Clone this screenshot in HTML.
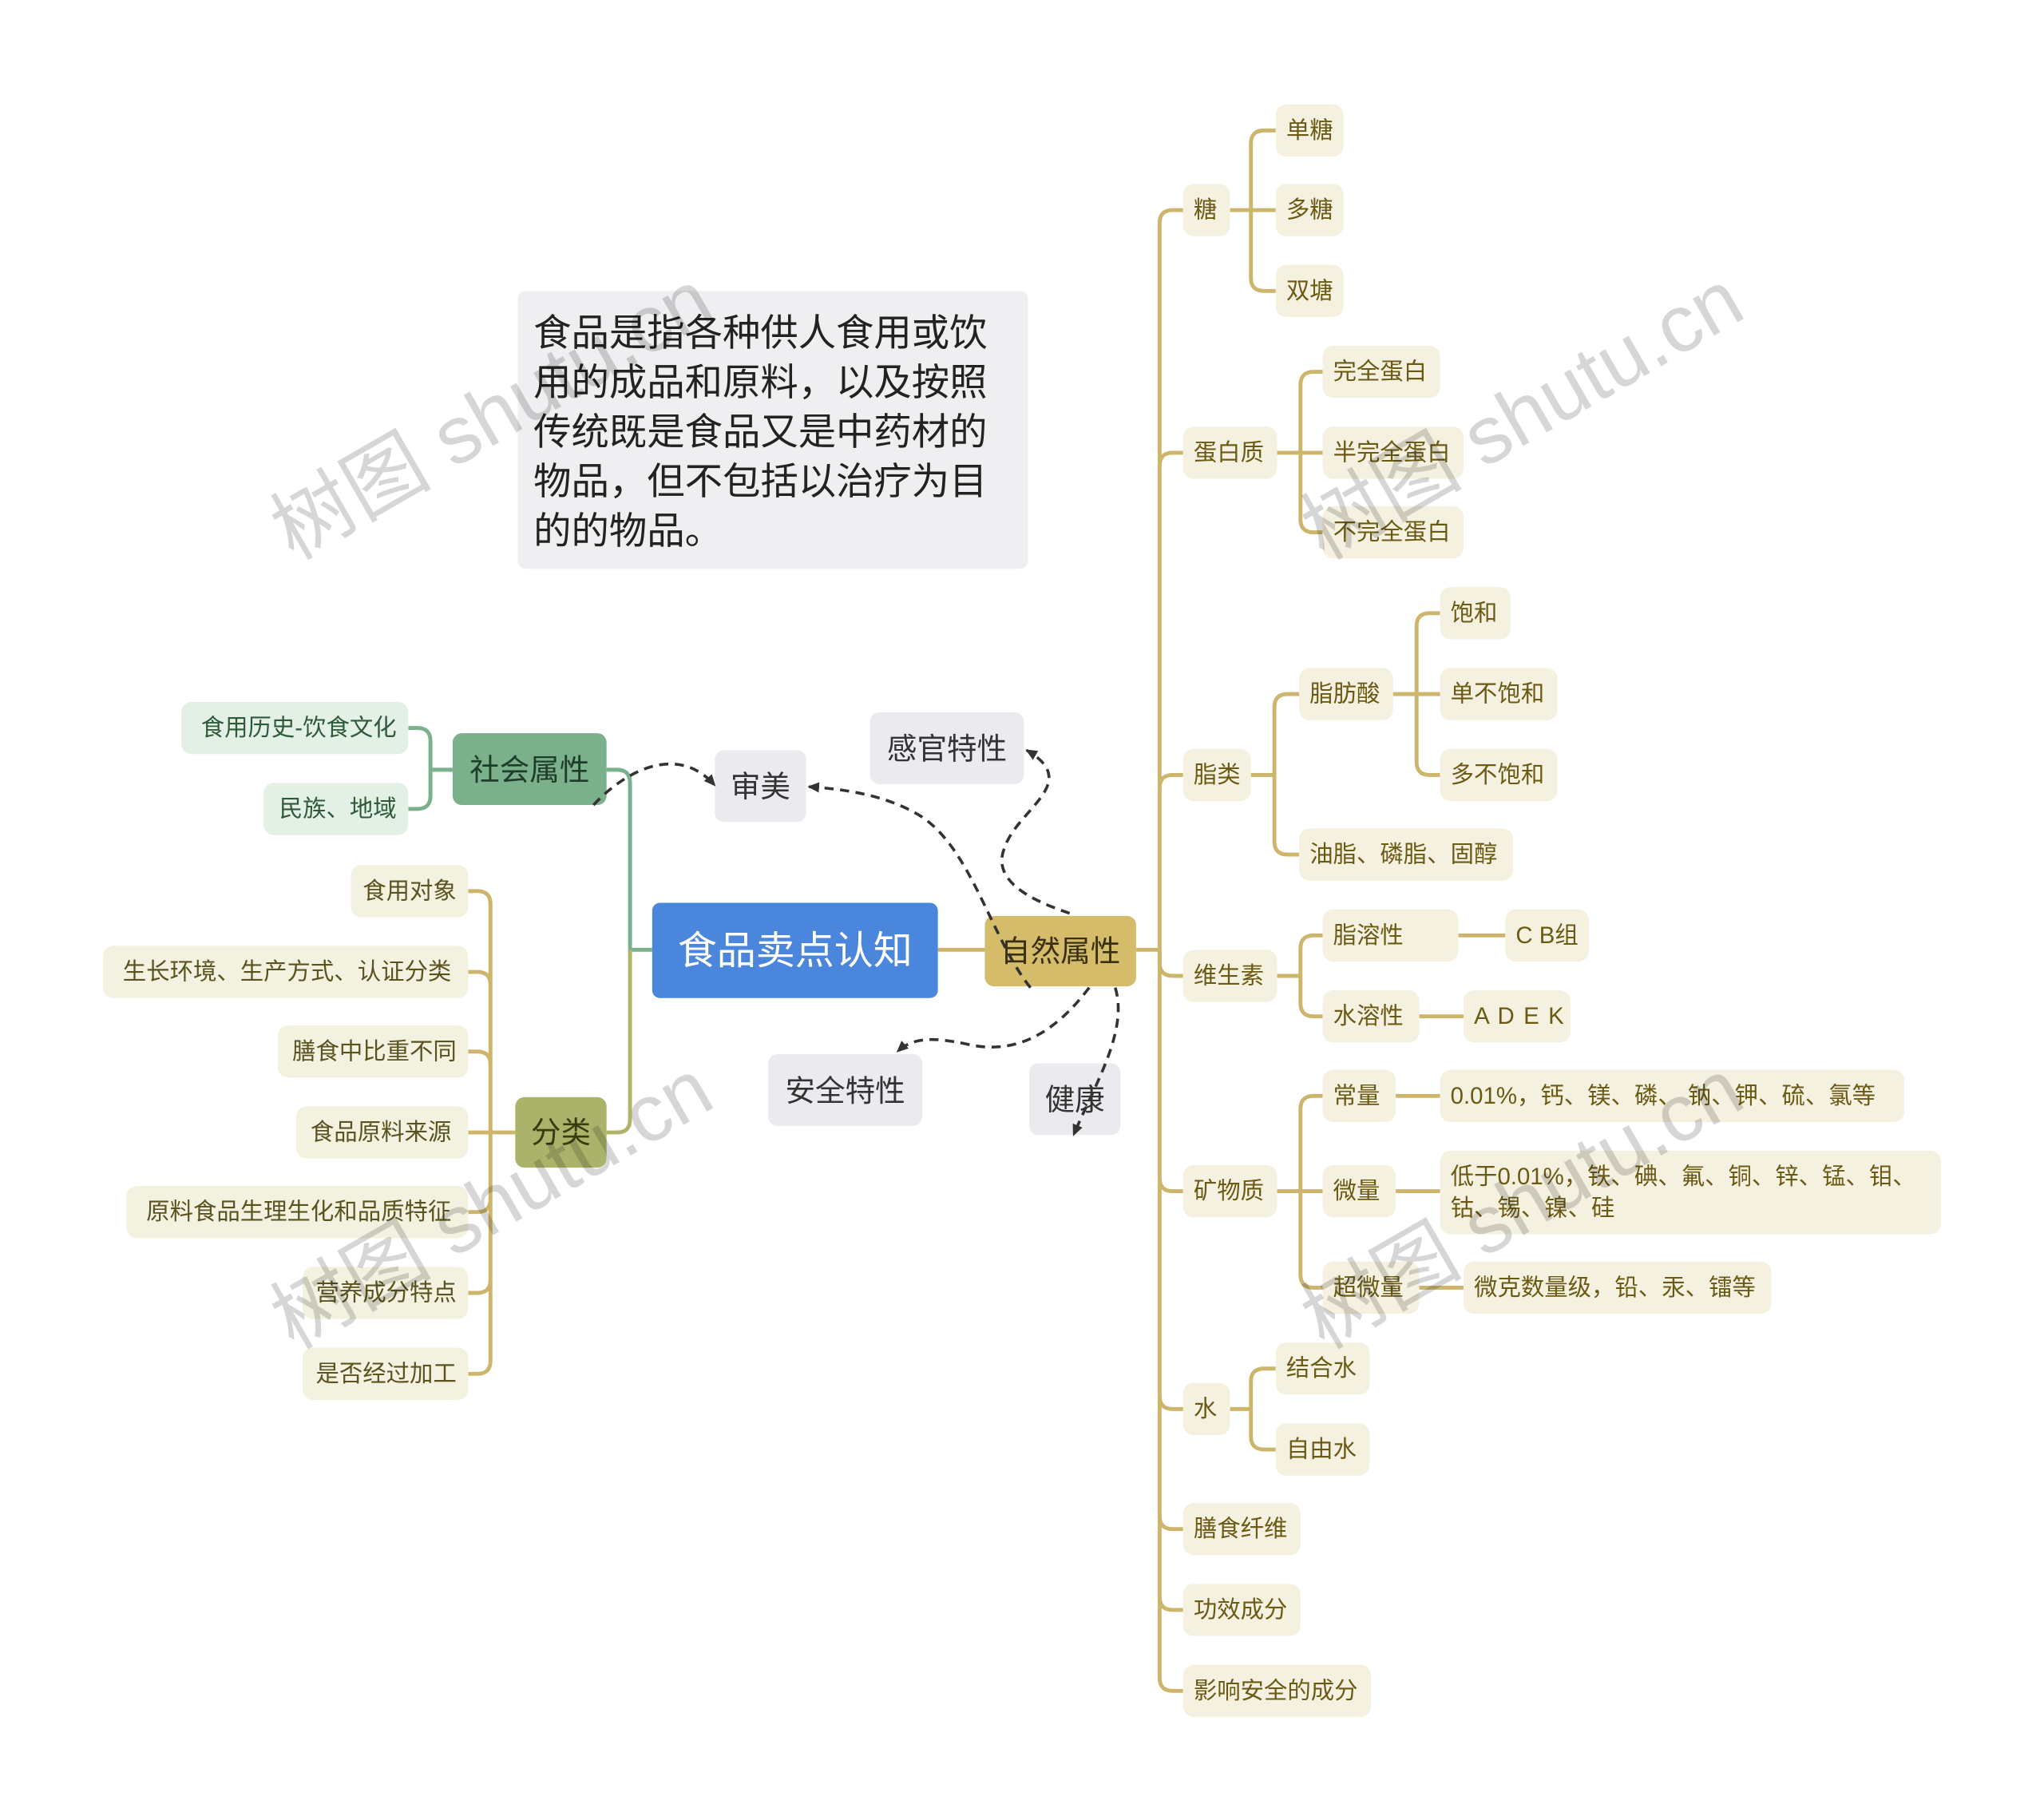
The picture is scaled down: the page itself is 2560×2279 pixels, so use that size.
<!DOCTYPE html>
<html><head><meta charset="utf-8"><style>
html,body{margin:0;padding:0;background:#fff;}
svg{display:block;}
text{font-family:"Liberation Sans","Noto Sans CJK SC",sans-serif;}
</style></head><body>
<svg width="2560" height="2279" viewBox="0 0 1567 1395" xmlns="http://www.w3.org/2000/svg">
<defs><marker id="ar" markerWidth="10" markerHeight="10" refX="8" refY="5" orient="auto" markerUnits="userSpaceOnUse"><path d="M0,1 L9,5 L0,9 Z" fill="#333"/></marker></defs>
<!-- note -->
<rect x="397" y="223" width="391" height="213" rx="6" fill="#efeef0"/>
<g font-size="29" fill="#222">
<text x="409" y="265">食品是指各种供人食用或饮</text>
<text x="409" y="303">用的成品和原料，以及按照</text>
<text x="409" y="341">传统既是食品又是中药材的</text>
<text x="409" y="379">物品，但不包括以治疗为目</text>
<text x="409" y="417">的的物品。</text>
</g>
<!-- connectors right -->
<g fill="none" stroke="#cdb56c" stroke-width="3">
<path d="M719,728 H755"/>
<path d="M871,728 H889"/>
<path d="M889,728 V171 Q889,161 899,161 H907"/>
<path d="M889,357 Q889,347 899,347 H907"/>
<path d="M889,604 Q889,594 899,594 H907"/>
<path d="M889,728 V738 Q889,748 899,748 H907"/>
<path d="M889,728 V1286 Q889,1296 899,1296 H907"/>
<path d="M889,903 Q889,913 899,913 H907"/>
<path d="M889,1070 Q889,1080 899,1080 H907"/>
<path d="M889,1162 Q889,1172 899,1172 H907"/>
<path d="M889,1224 Q889,1234 899,1234 H907"/>
<path d="M943,161 H978"/>
<path d="M959,161 V110 Q959,100 969,100 H978"/>
<path d="M959,161 V213 Q959,223 969,223 H978"/>
<path d="M979,347 H1014"/>
<path d="M997,347 V295 Q997,285 1007,285 H1014"/>
<path d="M997,347 V398 Q997,408 1007,408 H1014"/>
<path d="M959,594 H977"/>
<path d="M977,594 V542 Q977,532 987,532 H996"/>
<path d="M977,594 V645 Q977,655 987,655 H996"/>
<path d="M1068,532 H1104"/>
<path d="M1086,532 V480 Q1086,470 1096,470 H1104"/>
<path d="M1086,532 V584 Q1086,594 1096,594 H1104"/>
<path d="M979,748 H997"/>
<path d="M997,748 V727 Q997,717 1007,717 H1014"/>
<path d="M997,748 V769 Q997,779 1007,779 H1014"/>
<path d="M1118,717 H1154"/>
<path d="M1088,779 H1122"/>
<path d="M979,913 H1014"/>
<path d="M997,913 V850 Q997,840 1007,840 H1014"/>
<path d="M997,913 V977 Q997,987 1007,987 H1014"/>
<path d="M1070,840 H1104"/>
<path d="M1070,913 H1104"/>
<path d="M1088,987 H1122"/>
<path d="M943,1080 H959"/>
<path d="M959,1080 V1059 Q959,1049 969,1049 H978"/>
<path d="M959,1080 V1101 Q959,1111 969,1111 H978"/>
</g>
<!-- connectors left -->
<g fill="none" stroke-width="3">
<path stroke="#7ab08a" d="M500,728 H483 V600 Q483,590 473,590 H465"/>
<path stroke="#b0b46a" d="M483,728 V858 Q483,868 473,868 H465"/>
<path stroke="#7ab08a" d="M347,590 H330 V568 Q330,558 320,558 H313 M330,590 V610 Q330,620 320,620 H313"/>
<g stroke="#cdb56c">
<path d="M395,868 H359"/>
<path d="M376,868 V693 Q376,683 366,683 H359"/>
<path d="M376,755 Q376,745 366,745 H359"/>
<path d="M376,816 Q376,806 366,806 H359"/>
<path d="M376,868 V1043 Q376,1053 366,1053 H359"/>
<path d="M376,919 Q376,929 366,929 H359"/>
<path d="M376,981 Q376,991 366,991 H359"/>
</g>
</g>
<!-- right boxes -->
<g fill="#f5f1e0">
<rect x="907" y="141" width="36" height="40" rx="8"/>
<rect x="978" y="80" width="52" height="40" rx="8"/>
<rect x="978" y="141" width="52" height="40" rx="8"/>
<rect x="978" y="203" width="52" height="40" rx="8"/>
<rect x="907" y="327" width="72" height="40" rx="8"/>
<rect x="1014" y="265" width="90" height="40" rx="8"/>
<rect x="1014" y="327" width="108" height="40" rx="8"/>
<rect x="1014" y="388" width="108" height="40" rx="8"/>
<rect x="907" y="574" width="52" height="40" rx="8"/>
<rect x="996" y="512" width="72" height="40" rx="8"/>
<rect x="996" y="635" width="164" height="40" rx="8"/>
<rect x="1104" y="450" width="54" height="40" rx="8"/>
<rect x="1104" y="512" width="90" height="40" rx="8"/>
<rect x="1104" y="574" width="90" height="40" rx="8"/>
<rect x="907" y="728" width="72" height="40" rx="8"/>
<rect x="1014" y="697" width="104" height="40" rx="8"/>
<rect x="1154" y="697" width="64" height="40" rx="8"/>
<rect x="1014" y="759" width="74" height="40" rx="8"/>
<rect x="1122" y="759" width="82" height="40" rx="8"/>
<rect x="907" y="893" width="72" height="40" rx="8"/>
<rect x="1014" y="820" width="56" height="40" rx="8"/>
<rect x="1104" y="820" width="356" height="40" rx="8"/>
<rect x="1014" y="893" width="56" height="40" rx="8"/>
<rect x="1104" y="882" width="384" height="64" rx="8"/>
<rect x="1014" y="967" width="74" height="40" rx="8"/>
<rect x="1122" y="967" width="236" height="40" rx="8"/>
<rect x="907" y="1060" width="36" height="40" rx="8"/>
<rect x="978" y="1029" width="72" height="40" rx="8"/>
<rect x="978" y="1091" width="72" height="40" rx="8"/>
<rect x="907" y="1152" width="90" height="40" rx="8"/>
<rect x="907" y="1214" width="90" height="40" rx="8"/>
<rect x="907" y="1276" width="144" height="40" rx="8"/>
</g>
<g font-size="18" fill="#6b5a14" dominant-baseline="central">
<text x="915" y="161">糖</text>
<text x="986" y="100">单糖</text>
<text x="986" y="161">多糖</text>
<text x="986" y="223">双塘</text>
<text x="915" y="347">蛋白质</text>
<text x="1022" y="285">完全蛋白</text>
<text x="1022" y="347">半完全蛋白</text>
<text x="1022" y="408">不完全蛋白</text>
<text x="915" y="594">脂类</text>
<text x="1004" y="532">脂肪酸</text>
<text x="1004" y="655">油脂、磷脂、固醇</text>
<text x="1112" y="470">饱和</text>
<text x="1112" y="532">单不饱和</text>
<text x="1112" y="594">多不饱和</text>
<text x="915" y="748">维生素</text>
<text x="1022" y="717">脂溶性</text>
<text x="1162" y="717">C B组</text>
<text x="1022" y="779">水溶性</text>
<text x="1130" y="779" letter-spacing="1">A D E K</text>
<text x="915" y="913">矿物质</text>
<text x="1022" y="840">常量</text>
<text x="1112" y="840">0.01%，钙、镁、磷、 钠、钾、硫、氯等</text>
<text x="1022" y="913">微量</text>
<text x="1112" y="902">低于0.01%，铁、碘、氟、铜、锌、锰、钼、</text>
<text x="1112" y="926">钴、锡、镍、硅</text>
<text x="1022" y="987">超微量</text>
<text x="1130" y="987">微克数量级，铅、汞、镭等</text>
<text x="915" y="1080">水</text>
<text x="986" y="1049">结合水</text>
<text x="986" y="1111">自由水</text>
<text x="915" y="1172">膳食纤维</text>
<text x="915" y="1234">功效成分</text>
<text x="915" y="1296">影响安全的成分</text>
</g>
<!-- left boxes -->
<g fill="#e3f0e6"><rect x="139" y="538" width="174" height="40" rx="8"/><rect x="202" y="600" width="111" height="40" rx="8"/></g>
<g font-size="18" fill="#2f5a3a" dominant-baseline="central" text-anchor="end">
<text x="304" y="558">食用历史-饮食文化</text><text x="304" y="620">民族、地域</text></g>
<g fill="#f3f1df">
<rect x="269" y="663" width="90" height="40" rx="8"/>
<rect x="79" y="725" width="280" height="40" rx="8"/>
<rect x="213" y="786" width="146" height="40" rx="8"/>
<rect x="227" y="848" width="132" height="40" rx="8"/>
<rect x="97" y="909" width="262" height="40" rx="8"/>
<rect x="232" y="971" width="127" height="40" rx="8"/>
<rect x="232" y="1033" width="127" height="40" rx="8"/>
</g>
<g font-size="18" fill="#5a5320" dominant-baseline="central" text-anchor="end">
<text x="350" y="683">食用对象</text>
<text x="346" y="745">生长环境、生产方式、认证分类</text>
<text x="350" y="806">膳食中比重不同</text>
<text x="346" y="868">食品原料来源</text>
<text x="346" y="929">原料食品生理生化和品质特征</text>
<text x="350" y="991">营养成分特点</text>
<text x="350" y="1053">是否经过加工</text>
</g>
<!-- main nodes -->
<rect x="500" y="692" width="219" height="73" rx="6" fill="#4a86dc"/>
<text x="609.5" y="729" font-size="30" fill="#fff" text-anchor="middle" dominant-baseline="central">食品卖点认知</text>
<rect x="755" y="702" width="116" height="54" rx="7" fill="#d4bc6a"/>
<text x="813" y="729" font-size="23" fill="#3a3010" text-anchor="middle" dominant-baseline="central">自然属性</text>
<rect x="347" y="562" width="118" height="55" rx="7" fill="#7ab08a"/>
<text x="406" y="590" font-size="23" fill="#1e3d2a" text-anchor="middle" dominant-baseline="central">社会属性</text>
<rect x="395" y="841" width="70" height="54" rx="7" fill="#abb36a"/>
<text x="430" y="868" font-size="23" fill="#3a3a10" text-anchor="middle" dominant-baseline="central">分类</text>
<g fill="#ebebef">
<rect x="667" y="546" width="118" height="55" rx="7"/>
<rect x="548" y="575" width="70" height="55" rx="7"/>
<rect x="589" y="808" width="118" height="55" rx="7"/>
<rect x="789" y="815" width="70" height="55" rx="7"/>
</g>
<g font-size="23" fill="#333" text-anchor="middle" dominant-baseline="central">
<text x="726" y="574">感官特性</text>
<text x="583" y="603">审美</text>
<text x="648" y="836">安全特性</text>
<text x="824" y="843">健康</text>
</g>
<!-- dashed relations -->
<g fill="none" stroke="#333" stroke-width="2.2" stroke-dasharray="7,5">
<path d="M455,617 C480,590 520,570 548,602" marker-end="url(#ar)"/>
<path d="M790,757 C760,720 745,650 705,625 C680,610 650,605 620,603" marker-end="url(#ar)"/>
<path d="M820,700 C790,690 760,675 770,650 C780,620 830,600 787,575" marker-end="url(#ar)"/>
<path d="M835,757 C810,790 780,810 740,800 C715,795 700,795 688,806" marker-end="url(#ar)"/>
<path d="M855,757 C865,790 840,830 823,870" marker-end="url(#ar)"/>
</g>
<!-- watermarks -->
<g font-family="Liberation Serif,Noto Serif CJK SC,serif" font-size="62" fill="rgba(0,0,0,0.16)">
<text transform="translate(225,430) rotate(-30)">树图 shutu.cn</text>
<text transform="translate(1015,430) rotate(-30)">树图 shutu.cn</text>
<text transform="translate(225,1035) rotate(-30)">树图 shutu.cn</text>
<text transform="translate(1015,1035) rotate(-30)">树图 shutu.cn</text>
</g>
</svg>
</body></html>
